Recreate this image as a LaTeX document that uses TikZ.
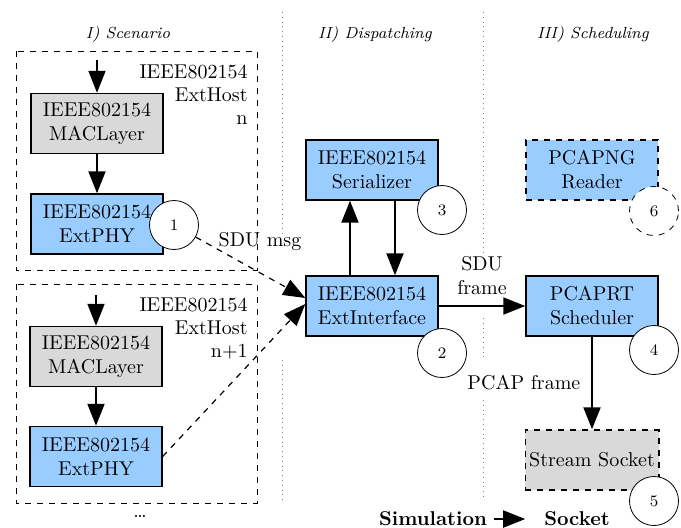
\documentclass[tikz,border=0pt]{standalone}
\usetikzlibrary{arrows.meta}
\definecolor{boxblue}{RGB}{153,204,255}
\definecolor{boxgray}{RGB}{217,217,217}

\begin{document}
\begin{tikzpicture}[x=0.5pt,y=-0.5pt,
    block/.style={draw,line width=0.7pt,minimum width=66pt,minimum height=30pt,
        align=center,inner sep=2pt},
    blue block/.style={block,fill=boxblue},
    gray block/.style={block,fill=boxgray},
    num/.style={draw,circle,fill=white,minimum size=24.5pt,inner sep=0pt,
        font=\footnotesize},
    host/.style={draw,dashed,line width=0.5pt},
    hostname/.style={anchor=north east,align=right,inner sep=0pt,
        font=\fontsize{10}{11.5}\selectfont},
    flow/.style={->,>={Triangle[length=11pt,width=8.5pt]},line width=1pt},
    msg/.style={->,>={Triangle[length=11pt,width=8.5pt]},dashed,line width=0.6pt},
    lane/.style={dotted,gray,line width=0.4pt},
    heading/.style={font=\footnotesize\itshape}]
\useasboundingbox (0,0) rectangle (681,527);

% lanes
\draw[lane] (282,12) -- (282,233);
\draw[lane] (282,360) -- (282,500);
\draw[lane] (483,12) -- (483,255);
\draw[lane] (483,318) -- (483,358);
\draw[lane] (483,400) -- (483,500);
\node[heading] (scenario) at (128,34) {I) Scenario};
\node[heading] (dispatching) at (375,34) {II) Dispatching};
\node[heading] (scheduling) at (593,34) {III) Scheduling};

% I) scenario
\draw[host] (16,51) rectangle (257,270);
\draw[host] (16,284) rectangle (257,503);
\node[hostname] (host1) at (248,64) {IEEE802154\\ExtHost\\n};
\node[hostname] (host2) at (248,297) {IEEE802154\\ExtHost\\n+1};
\node[gray block] (mac1) at (97,123.5) {IEEE802154\\MACLayer};
\node[blue block] (phy1) at (97,224) {IEEE802154\\ExtPHY};
\node[gray block] (mac2) at (96,356.5) {IEEE802154\\MACLayer};
\node[blue block] (phy2) at (96,456.5) {IEEE802154\\ExtPHY};
\node[num] (c1) at (174,225) {1};
\coordinate (in1) at (97,60);
\coordinate (in2) at (96,295);
\draw[flow] (in1) -- (mac1);
\draw[flow] (mac1) -- (phy1);
\draw[flow] (in2) -- (mac2);
\draw[flow] (mac2) -- (phy2);
\node at (140,516) {\dots};

% II) dispatching
\node[blue block] (ser) at (372,170) {IEEE802154\\Serializer};
\node[blue block] (ifc) at (372,306) {IEEE802154\\ExtInterface};
\node[num] (c3) at (442,210) {3};
\node[num] (c2) at (442,353) {2};
\draw[flow] ([xshift=-11pt]ifc.north) -- ([xshift=-11pt]ser.south);
\draw[flow] ([xshift=11.5pt]ser.south) -- ([xshift=11.5pt]ifc.north);
\draw[msg] (c1) -- ([yshift=4pt]ifc.west);
\draw[msg] (phy2.east) -- ([yshift=1pt]ifc.west);
\node (sdumsg) at (260,242) {SDU msg};

% III) scheduling
\node[blue block,dashed] (reader) at (592,170) {PCAPNG\\Reader};
\node[blue block] (sched) at (592,306) {PCAPRT\\Scheduler};
\node[gray block,dashed] (sock) at (592,460) {Stream Socket};
\node[num,dashed] (c6) at (654,211) {6};
\node[num] (c4) at (654,350) {4};
\node[num] (c5) at (654,501) {5};
\draw[flow] (ifc) -- (sched) node[midway,above,align=center,yshift=2pt] {SDU\\frame};
\draw[flow] (sched) -- (sock) node[midway,left=2pt] {PCAP frame};

% legend
\node[font=\bfseries] (sim) at (433,519) {Simulation};
\node[font=\bfseries] (socket) at (577,519) {Socket};
\draw[flow,shorten >=6pt] (sim) -- (socket);
\end{tikzpicture}
\end{document}
